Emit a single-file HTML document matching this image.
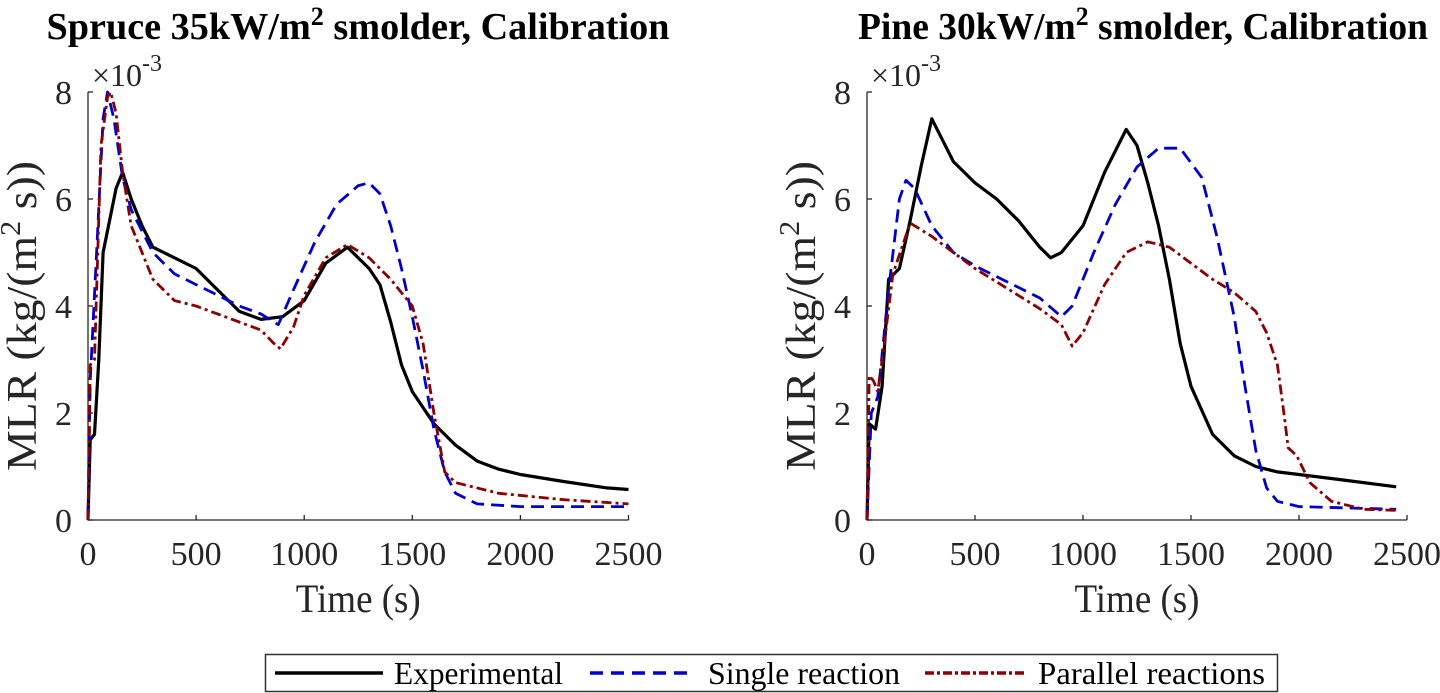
<!DOCTYPE html>
<html><head><meta charset="utf-8"><style>
html,body{margin:0;padding:0;background:#fff;}
svg{display:block;}
text{font-family:"Liberation Serif",serif;}
</style></head><body>
<svg width="1440" height="693" viewBox="0 0 1440 693">
<g id="root"></g>
<g>
<rect x="265.5" y="654.5" width="1012" height="37" fill="#fff" stroke="#333" stroke-width="1.5"/>
<line x1="275" y1="673" x2="383" y2="673" stroke="#000" stroke-width="3.5"/>
<text x="394" y="684" font-size="32" textLength="169" lengthAdjust="spacingAndGlyphs">Experimental</text>
<line x1="590" y1="673" x2="687" y2="673" stroke="#0000cc" stroke-width="3.5" stroke-dasharray="13,8"/>
<text x="708" y="684" font-size="32" textLength="192" lengthAdjust="spacingAndGlyphs">Single reaction</text>
<line x1="925" y1="673" x2="1024" y2="673" stroke="#8b0000" stroke-width="3.5" stroke-dasharray="9,3,3,3"/>
<text x="1038" y="684" font-size="32" textLength="227" lengthAdjust="spacingAndGlyphs">Parallel reactions</text>
</g>
</svg>
<script>
const xTicks=[0,500,1000,1500,2000,2500];
const yTicks=[0,2,4,6,8];
const titles=["Spruce 35kW/m","Pine 30kW/m"];
// Spruce (left) — x in s, y in 1e-3 kg/(m2 s)
const sprExpT=[0,10,30,50,70,100,130,160,200,250,300,400,500,600,700,800,900,1000,1100,1200,1300,1350,1400,1450,1500,1600,1700,1800,1900,2000,2200,2400,2500];
const sprExpV=[0,1.5,1.6,3,5,5.6,6.2,6.5,6,5.5,5.1,4.9,4.7,4.3,3.9,3.75,3.8,4.1,4.8,5.1,4.7,4.4,3.7,2.9,2.4,1.8,1.4,1.1,0.95,0.85,0.72,0.6,0.57];
const sprSinT=[0,10,40,70,90,120,160,200,300,400,500,600,700,800,880,950,1050,1150,1250,1300,1350,1400,1450,1500,1550,1600,1650,1700,1800,2000,2500];
const sprSinV=[0,2.6,5,7.5,8,7.5,6.4,5.8,5,4.6,4.4,4.2,4,3.85,3.65,4.3,5.2,5.9,6.25,6.3,6.1,5.5,4.7,3.8,2.8,1.7,0.9,0.5,0.3,0.25,0.25];
const sprParT=[0,10,30,60,90,105,130,160,200,300,400,500,600,700,800,860,890,950,1000,1100,1200,1300,1400,1500,1550,1600,1650,1700,1900,2200,2500];
const sprParV=[0,2.9,3,7,7.9,8,7.6,6.5,5.5,4.5,4.1,4,3.85,3.7,3.55,3.3,3.2,3.6,4.2,4.9,5.15,4.9,4.5,4.0,3.3,2,0.9,0.7,0.5,0.38,0.3];
// Pine (right)
const pinExpT=[0,10,40,70,100,150,200,250,300,350,400,500,600,700,800,850,900,1000,1100,1200,1250,1300,1350,1400,1450,1500,1600,1700,1800,1900,2000,2200,2450];
const pinExpV=[0,1.8,1.7,2.5,4.5,4.7,5.6,6.6,7.5,7.1,6.7,6.3,6,5.6,5.1,4.9,5,5.5,6.5,7.3,7,6.3,5.5,4.5,3.3,2.5,1.6,1.2,1.0,0.9,0.85,0.75,0.62];
const pinSinT=[0,20,50,100,150,180,220,300,400,500,600,700,800,900,950,1050,1150,1250,1350,1450,1550,1620,1700,1750,1800,1850,1900,2000,2450];
const pinSinV=[0,2.0,2.3,4.3,6,6.35,6.2,5.5,5,4.75,4.55,4.35,4.15,3.8,4,5,5.9,6.6,6.95,6.95,6.4,5.3,3.8,2.5,1.3,0.6,0.35,0.25,0.2];
const pinParT=[0,10,30,50,80,120,200,300,400,500,600,700,800,900,950,1000,1100,1200,1300,1400,1500,1600,1700,1800,1850,1900,1930,1950,1990,2050,2150,2300,2450];
const pinParV=[0,2.7,2.6,2.4,3.3,4.6,5.55,5.3,5,4.7,4.45,4.2,3.95,3.65,3.25,3.5,4.4,5,5.2,5.1,4.8,4.5,4.25,3.9,3.5,2.9,2,1.35,1.2,0.7,0.35,0.2,0.18];

const NS="http://www.w3.org/2000/svg";
const root=document.getElementById('root');
function mk(tag,attrs,parent){const e=document.createElementNS(NS,tag);for(const k in attrs)e.setAttribute(k,attrs[k]);(parent||root).appendChild(e);return e;}
const panels=[
 {x0:88,x1:628.5,name:'spruce',title:0,cx:358,tl:623,series:[[sprExpT,sprExpV],[sprSinT,sprSinV],[sprParT,sprParV]]},
 {x0:867,x1:1407,name:'pine',title:1,cx:1143,tl:570,series:[[pinExpT,pinExpV],[pinSinT,pinSinV],[pinParT,pinParV]]}
];
const Y0=520,Y1=92;
const styles=[{stroke:'#000',w:3.2,dash:''},{stroke:'#0000cc',w:2.8,dash:'13,7'},{stroke:'#8b0000',w:2.8,dash:'10,4,3,4'}];
const snames=['experimental-line','single-reaction-line','parallel-reactions-line'];
panels.forEach(p=>{
 const sx=v=>p.x0+(v/2500)*(p.x1-p.x0);
 const sy=v=>Y0-(v/8)*(Y0-Y1);
 const g=mk('g',{});
 
 
 const t=mk('text',{x:p.cx,y:39,'font-size':38,'font-weight':'bold','text-anchor':'middle',textLength:p.tl,lengthAdjust:'spacingAndGlyphs'},g);
 
 
 t.innerHTML=titles[p.title]+'<tspan dy="-14" font-size="26">2</tspan><tspan dy="14"> smolder, Calibration</tspan>';
 const ax=mk('path',{d:`M${p.x0},${Y1} V${Y0} H${p.x1}`,fill:'none',stroke:'#262626','stroke-width':1.3},g);
 
 
 xTicks.forEach(v=>{
  mk('line',{x1:sx(v),x2:sx(v),y1:Y0,y2:Y0-5,stroke:'#262626','stroke-width':1.3},g);
  const tl=mk('text',{x:sx(v),y:Y0+45,'font-size':34,'text-anchor':'middle',fill:'#262626'},g);
  
  
  tl.textContent=v;
 });
 yTicks.forEach(v=>{
  mk('line',{x1:p.x0,x2:p.x0+5,y1:sy(v),y2:sy(v),stroke:'#262626','stroke-width':1.3},g);
  const tl=mk('text',{x:p.x0-16,y:sy(v)+12,'font-size':34,'text-anchor':'end',fill:'#262626'},g);
  
  
  tl.textContent=v;
 });
 const ex=mk('text',{x:p.x0+4,y:86,'font-size':32,fill:'#262626'},g);
 
 
 ex.innerHTML='×10<tspan dy="-15" font-size="24">-3</tspan>';
 const xt=mk('text',{x:(p.x0+p.x1)/2,y:612,'font-size':40,'text-anchor':'middle',fill:'#262626',textLength:125,lengthAdjust:'spacingAndGlyphs'},g);
 
 
 xt.textContent='Time (s)';
 const yt=mk('text',{x:0,y:0,'font-size':42,'text-anchor':'middle',fill:'#262626',textLength:310,lengthAdjust:'spacingAndGlyphs',transform:`translate(${p.x0-52},${(Y0+Y1)/2+10}) rotate(-90)`},g);
 
 
 yt.innerHTML='MLR (kg/(m<tspan dy="-16" font-size="28">2</tspan><tspan dy="16"> s))</tspan>';
 p.series.forEach((s,i)=>{
  const d=s[0].map((x,j)=>(j?'L':'M')+sx(x).toFixed(1)+','+sy(s[1][j]).toFixed(1)).join(' ');
  const st=styles[i];
  const pa=mk('path',{d:d,fill:'none',stroke:st.stroke,'stroke-width':st.w,'stroke-linejoin':'round'},g);
  if(st.dash)pa.setAttribute('stroke-dasharray',st.dash);
  
  
 });
});
</script>
</body></html>
